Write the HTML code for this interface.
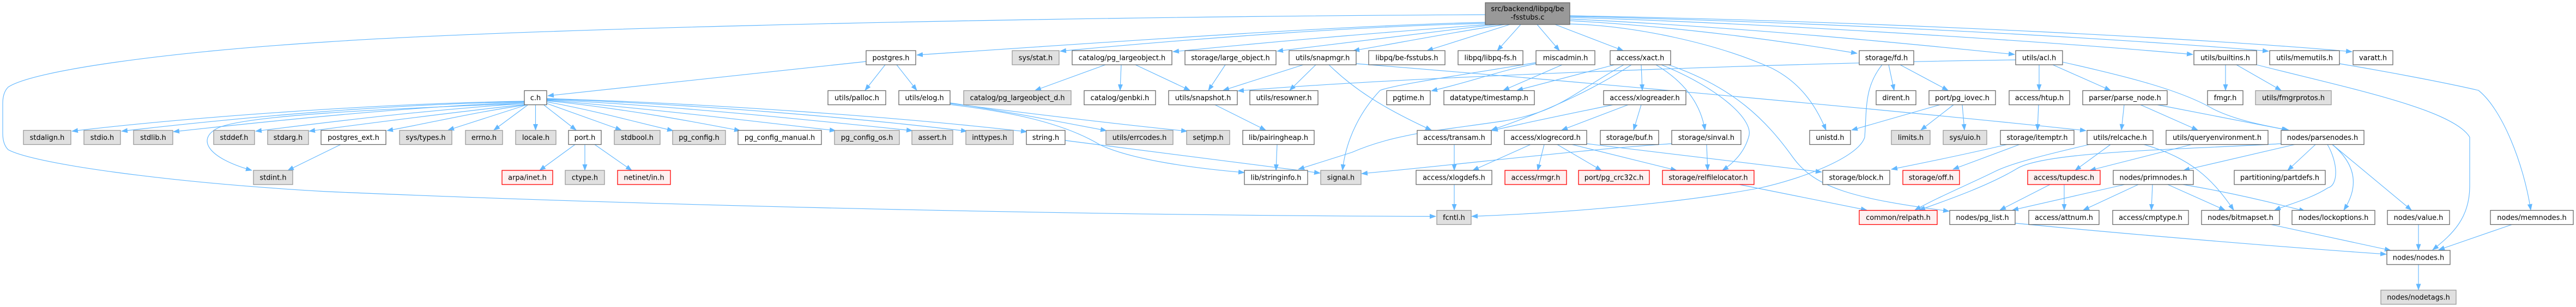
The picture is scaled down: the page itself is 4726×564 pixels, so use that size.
<!DOCTYPE html>
<html><head><meta charset="utf-8">
<style>
html,body{margin:0;padding:0;background:#fff;}
svg{display:block;}
.e{fill:none;stroke:#63b8ff;stroke-width:1.15;marker-end:url(#ah);}
.w{fill:#fff;stroke:#666;stroke-width:1.3;}
.g{fill:#e0e0e0;stroke:#999;stroke-width:1.3;}
.r{fill:#fff0f0;stroke:#f00;stroke-width:1.3;}
.rt{fill:#999;stroke:#666;stroke-width:1.3;}
text{font-family:"DejaVu Sans","Liberation Sans",sans-serif;font-size:12.9px;fill:#000;text-anchor:middle;}
</style></head>
<body>
<svg width="4726" height="564" viewBox="0 0 4726 564" xmlns="http://www.w3.org/2000/svg">
<defs>
<marker id="ah" markerUnits="userSpaceOnUse" markerWidth="12" markerHeight="9" viewBox="0 0 12 9" refX="11" refY="4.5" orient="auto">
<path d="M0,0 L12,4.5 L0,9 z" fill="#63b8ff"/>
</marker>
</defs>
<rect width="4726" height="564" fill="#fff"/>
<g>
<!-- root edges -->
<path class="e" d="M2725,27 C2000,30 1000,50 600,77 C300,96 60,130 15,160 Q5,170 5,190 L5,245 Q5,265 15,275 C60,300 300,335 600,352 C1200,378 2000,396 2634,397.5"/>
<path class="e" d="M2725,41 C2450,47 2000,80 1682,101"/>
<path class="e" d="M2725,43 C2500,48 2200,70 1945,94"/>
<path class="e" d="M2730,45 C2600,55 2400,70 2152,95"/>
<path class="e" d="M2745,45 C2600,62 2450,80 2343,94"/>
<path class="e" d="M2760,45 C2650,62 2560,80 2483,93"/>
<path class="e" d="M2770,45 L2618,93"/>
<path class="e" d="M2790,45 L2747,93"/>
<path class="e" d="M2820,45 L2861,93"/>
<path class="e" d="M2853,45 L2978,93"/>
<path class="e" d="M2880,38 C3100,50 3300,80 3407,98"/>
<path class="e" d="M2880,44 C3000,47 3150,80 3250,125 C3300,150 3330,190 3350,239"/>
<path class="e" d="M2880,35 C3200,50 3500,80 3696,100"/>
<path class="e" d="M2880,32 C3300,45 3800,80 4023,100"/>
<path class="e" d="M2880,30 C3500,45 4000,80 4162,94"/>
<path class="e" d="M2880,29 C3500,40 4100,75 4315,95"/>
<!-- postgres.h -->
<path class="e" d="M1589,113 L1005,176"/>
<path class="e" d="M1624,119 L1587,166"/>
<path class="e" d="M1645,119 L1682,166"/>
<!-- c.h -->
<path class="e" d="M962,186 C700,190 350,215 132,241"/>
<path class="e" d="M962,187 C700,192 450,215 223,241"/>
<path class="e" d="M962,188 C750,196 500,222 318,242"/>
<path class="e" d="M962,190 C700,200 450,212 400,235 C360,255 380,290 462,313"/>
<path class="e" d="M962,190 C750,205 600,225 469,241"/>
<path class="e" d="M962,192 C800,210 650,230 567,241"/>
<path class="e" d="M962,193 C850,210 780,228 710,240"/>
<path class="e" d="M965,193 L822,239"/>
<path class="e" d="M968,193 L906,239"/>
<path class="e" d="M982.5,193 L982.5,239"/>
<path class="e" d="M998,193 L1057,239"/>
<path class="e" d="M1003,190 L1140,239"/>
<path class="e" d="M1003,187 C1100,205 1180,228 1235,240"/>
<path class="e" d="M1003,185 C1150,200 1280,225 1358,240"/>
<path class="e" d="M1003,184 C1200,200 1400,225 1533,240"/>
<path class="e" d="M1003,183 C1250,195 1500,222 1674,240"/>
<path class="e" d="M1003,182 C1300,192 1600,220 1774,241"/>
<path class="e" d="M1003,181 C1300,190 1650,215 1884,242"/>
<!-- port.h, postgres_ext.h -->
<path class="e" d="M1055,265.5 L990,313"/>
<path class="e" d="M1073,265.5 L1073,313"/>
<path class="e" d="M1091,265.5 L1159,313"/>
<path class="e" d="M625,265.5 L528,313"/>
<!-- elog -->
<path class="e" d="M1743,189 C1850,205 1950,225 2030,240"/>
<path class="e" d="M1743,190 C1900,210 2050,228 2178,241"/>
<path class="e" d="M1743,192 C1850,205 1950,225 2018,266 C2080,295 2200,310 2283,317"/>
<path class="e" d="M1954,258 L2422,318"/>
<!-- catalog / storage / snapmgr -->
<path class="e" d="M2028,119 L1899,166"/>
<path class="e" d="M2057,119 L2055,166"/>
<path class="e" d="M2083,119 L2183,166"/>
<path class="e" d="M2248,119 L2217,166"/>
<path class="e" d="M2391,119 L2244,166"/>
<path class="e" d="M2414,119 L2366,166"/>
<path class="e" d="M2438,119 C2480,160 2530,195 2626,239"/>
<path class="e" d="M2488,117 C2900,150 3500,205 3827,240"/>
<path class="e" d="M3698,110 C3300,115 2600,140 2271,167"/>
<path class="e" d="M2229,192.5 L2322,239"/>
<path class="e" d="M2343,265.5 L2341,313"/>
<!-- miscadmin -->
<path class="e" d="M2818,117 C2750,130 2700,150 2626,167"/>
<path class="e" d="M2818,115 C2700,135 2560,155 2532,166 C2500,200 2470,250 2463,313"/>
<path class="e" d="M2866,119 L2758,166"/>
<!-- xact -->
<path class="e" d="M2962,119 L2783,166"/>
<path class="e" d="M2993,119 C2930,160 2850,200 2736,239"/>
<path class="e" d="M2979,119 C2880,175 2860,205 2760,222 C2640,240 2560,245 2480,280 L2382,311"/>
<path class="e" d="M3011,119 L3013,166"/>
<path class="e" d="M3038,119 C3090,150 3120,190 3128,239"/>
<path class="e" d="M3048,119 C3150,160 3220,220 3208,252 C3200,280 3180,300 3160,313"/>
<path class="e" d="M3061,119 C3180,160 3240,220 3290,290 C3330,345 3400,365 3576,388"/>
<!-- xlogreader -->
<path class="e" d="M2959,192.5 C2900,205 2800,225 2737,240"/>
<path class="e" d="M2987,192.5 L2865,239"/>
<path class="e" d="M3011,192.5 L2997,239"/>
<!-- xlogrecord etc -->
<path class="e" d="M2808,265.5 L2702,313"/>
<path class="e" d="M2668,265.5 L2668,313"/>
<path class="e" d="M2833,265.5 L2821,313"/>
<path class="e" d="M2857,265.5 L2938,313"/>
<path class="e" d="M2884,265.5 L3076,313"/>
<path class="e" d="M2911,264 L3342,316"/>
<path class="e" d="M3067,264 C2900,275 2700,300 2498,319"/>
<path class="e" d="M3131,265.5 L3133,313"/>
<path class="e" d="M2668,339 L2668,386"/>
<path class="e" d="M3191,339 L3425,386"/>
<!-- fd.h -->
<path class="e" d="M3465,119 L3475,166"/>
<path class="e" d="M3486,119 L3574,166"/>
<path class="e" d="M3453,119 C3420,160 3425,200 3421,252 C3410,290 3300,330 3230,345 C3100,370 2900,390 2700,397.5"/>
<path class="e" d="M3559,192.5 L3397,239"/>
<path class="e" d="M3584,192.5 L3524,239"/>
<path class="e" d="M3600,192.5 L3604,239"/>
<!-- acl, builtins, memutils -->
<path class="e" d="M3741,119 L3741,166"/>
<path class="e" d="M3766,119 L3872,166"/>
<path class="e" d="M3784,114 C3900,140 4000,165 4060,200 C4100,220 4150,230 4199,239"/>
<path class="e" d="M4083,119 L4083,166"/>
<path class="e" d="M4103,119 L4185,166"/>
<path class="e" d="M4140,119 C4300,160 4500,200 4531,252 L4531,342 C4531,400 4500,430 4463,459"/>
<path class="e" d="M4292,117 C4400,135 4500,155 4547,166 C4590,200 4630,300 4643,386"/>
<!-- row2 -> row3 -->
<path class="e" d="M3740,192.5 L3738,239"/>
<path class="e" d="M3897,192.5 L3892,239"/>
<path class="e" d="M3927,192.5 L4032,239"/>
<path class="e" d="M3958,192.5 L4197,239"/>
<!-- row3 -> row4/5 -->
<path class="e" d="M3682,265.5 C3600,285 3500,305 3470,311"/>
<path class="e" d="M3705,265.5 L3583,311"/>
<path class="e" d="M3872,265.5 L3807,313"/>
<path class="e" d="M4021,265.5 L3834,313"/>
<path class="e" d="M3933,265.5 C4020,290 4060,330 4098,386"/>
<path class="e" d="M3833,265.5 C3750,285 3690,300 3660,315 C3620,335 3560,360 3513,386"/>
<path class="e" d="M4185,264 C4000,275 3750,278 3700,310 C3650,340 3580,365 3521,386"/>
<path class="e" d="M4210,265.5 L4006,313"/>
<path class="e" d="M4248,265.5 L4197,313"/>
<path class="e" d="M4270,265.5 C4290,300 4290,340 4271,345 C4240,365 4200,375 4173,386"/>
<path class="e" d="M4279,265.5 C4320,300 4330,340 4300,386"/>
<path class="e" d="M4279,265.5 L4424,386"/>
<!-- row4 -> row5 -->
<path class="e" d="M3761,339 L3669,386"/>
<path class="e" d="M3787,339 L3787,386"/>
<path class="e" d="M3898,339 L3692,386"/>
<path class="e" d="M3923,339 L3822,386"/>
<path class="e" d="M3949,339 L3947,386"/>
<path class="e" d="M3977,339 L4082,386"/>
<path class="e" d="M4005,339 C4100,355 4180,375 4229,388"/>
<!-- bottom -->
<path class="e" d="M3697,410 C3900,430 4200,455 4378,467"/>
<path class="e" d="M4164,412 L4386,460"/>
<path class="e" d="M4437,412 L4437,459.5"/>
<path class="e" d="M4610,412 L4474,459"/>
<path class="e" d="M4437,486 L4437,532.5"/>
</g>

<!-- root -->
<rect class="rt" x="2725" y="5" width="155" height="40"/>
<text x="2802.5" y="20.5">src/backend/libpq/be</text>
<text x="2802.5" y="36">-fsstubs.c</text>

<!-- Row 1 -->
<g>
<rect class="w" x="1589" y="93" width="91" height="26"/><text x="1634.5" y="110.5">postgres.h</text>
<rect class="g" x="1857" y="93" width="86" height="26"/><text x="1900" y="110.5">sys/stat.h</text>
<rect class="w" x="1967" y="93" width="183" height="26"/><text x="2058.5" y="110.5">catalog/pg_largeobject.h</text>
<rect class="w" x="2174" y="93" width="167" height="26"/><text x="2257.5" y="110.5">storage/large_object.h</text>
<rect class="w" x="2365" y="93" width="123" height="26"/><text x="2426.5" y="110.5">utils/snapmgr.h</text>
<rect class="w" x="2511" y="93" width="140" height="26"/><text x="2581" y="110.5">libpq/be-fsstubs.h</text>
<rect class="w" x="2675" y="93" width="119" height="26"/><text x="2734.5" y="110.5">libpq/libpq-fs.h</text>
<rect class="w" x="2818" y="93" width="108" height="26"/><text x="2872" y="110.5">miscadmin.h</text>
<rect class="w" x="2954" y="93" width="111" height="26"/><text x="3009.5" y="110.5">access/xact.h</text>
<rect class="w" x="3411" y="93" width="100" height="26"/><text x="3461" y="110.5">storage/fd.h</text>
<rect class="w" x="3698" y="93" width="86" height="26"/><text x="3741" y="110.5">utils/acl.h</text>
<rect class="w" x="4025" y="93" width="115" height="26"/><text x="4082.5" y="110.5">utils/builtins.h</text>
<rect class="w" x="4164" y="93" width="128" height="26"/><text x="4228" y="110.5">utils/memutils.h</text>
<rect class="w" x="4317" y="93" width="73" height="26"/><text x="4353.5" y="110.5">varatt.h</text>
</g>

<!-- Row 2 -->
<g>
<rect class="w" x="962" y="166.5" width="41" height="26"/><text x="982.5" y="184">c.h</text>
<rect class="w" x="1519" y="166.5" width="106" height="26"/><text x="1572" y="184">utils/palloc.h</text>
<rect class="w" x="1649" y="166.5" width="94" height="26"/><text x="1696" y="184">utils/elog.h</text>
<rect class="g" x="1768" y="166.5" width="197" height="26"/><text x="1866.5" y="184">catalog/pg_largeobject_d.h</text>
<rect class="w" x="1989" y="166.5" width="131" height="26"/><text x="2054.5" y="184">catalog/genbki.h</text>
<rect class="w" x="2144" y="166.5" width="126" height="26"/><text x="2207" y="184">utils/snapshot.h</text>
<rect class="w" x="2293" y="166.5" width="125" height="26"/><text x="2355.5" y="184">utils/resowner.h</text>
<rect class="w" x="2544" y="166.5" width="80" height="26"/><text x="2584" y="184">pgtime.h</text>
<rect class="w" x="2649" y="166.5" width="166" height="26"/><text x="2732" y="184">datatype/timestamp.h</text>
<rect class="w" x="2942" y="166.5" width="151" height="26"/><text x="3017.5" y="184">access/xlogreader.h</text>
<rect class="w" x="3442" y="166.5" width="73" height="26"/><text x="3478.5" y="184">dirent.h</text>
<rect class="w" x="3539" y="166.5" width="122" height="26"/><text x="3600" y="184">port/pg_iovec.h</text>
<rect class="w" x="3686" y="166.5" width="111" height="26"/><text x="3741.5" y="184">access/htup.h</text>
<rect class="w" x="3821" y="166.5" width="155" height="26"/><text x="3898.5" y="184">parser/parse_node.h</text>
<rect class="w" x="4050" y="166.5" width="65" height="26"/><text x="4082.5" y="184">fmgr.h</text>
<rect class="g" x="4138" y="166.5" width="139" height="26"/><text x="4207.5" y="184">utils/fmgrprotos.h</text>
</g>

<!-- Row 3 -->
<g>
<rect class="g" x="43" y="239.5" width="87" height="26"/><text x="86.5" y="257">stdalign.h</text>
<rect class="g" x="154" y="239.5" width="67" height="26"/><text x="187.5" y="257">stdio.h</text>
<rect class="g" x="245" y="239.5" width="72" height="26"/><text x="281" y="257">stdlib.h</text>
<rect class="g" x="392" y="239.5" width="75" height="26"/><text x="429.5" y="257">stddef.h</text>
<rect class="g" x="491" y="239.5" width="75" height="26"/><text x="528.5" y="257">stdarg.h</text>
<rect class="w" x="589" y="239.5" width="119" height="26"/><text x="648.5" y="257">postgres_ext.h</text>
<rect class="g" x="733" y="239.5" width="96" height="26"/><text x="781" y="257">sys/types.h</text>
<rect class="g" x="854" y="239.5" width="68" height="26"/><text x="888" y="257">errno.h</text>
<rect class="g" x="946" y="239.5" width="74" height="26"/><text x="983" y="257">locale.h</text>
<rect class="w" x="1043" y="239.5" width="60" height="26"/><text x="1073" y="257">port.h</text>
<rect class="g" x="1127" y="239.5" width="84" height="26"/><text x="1169" y="257">stdbool.h</text>
<rect class="g" x="1234" y="239.5" width="97" height="26"/><text x="1282.5" y="257">pg_config.h</text>
<rect class="w" x="1354" y="239.5" width="153" height="26"/><text x="1430.5" y="257">pg_config_manual.h</text>
<rect class="g" x="1531" y="239.5" width="119" height="26"/><text x="1590.5" y="257">pg_config_os.h</text>
<rect class="g" x="1673" y="239.5" width="75" height="26"/><text x="1710.5" y="257">assert.h</text>
<rect class="g" x="1772" y="239.5" width="87" height="26"/><text x="1815.5" y="257">inttypes.h</text>
<rect class="w" x="1883" y="239.5" width="71" height="26"/><text x="1918.5" y="257">string.h</text>
<rect class="g" x="2029" y="239.5" width="123" height="26"/><text x="2090.5" y="257">utils/errcodes.h</text>
<rect class="g" x="2177" y="239.5" width="79" height="26"/><text x="2216.5" y="257">setjmp.h</text>
<rect class="w" x="2280" y="239.5" width="131" height="26"/><text x="2345.5" y="257">lib/pairingheap.h</text>
<rect class="w" x="2600" y="239.5" width="136" height="26"/><text x="2668" y="257">access/transam.h</text>
<rect class="w" x="2760" y="239.5" width="151" height="26"/><text x="2835.5" y="257">access/xlogrecord.h</text>
<rect class="w" x="2936" y="239.5" width="107" height="26"/><text x="2989.5" y="257">storage/buf.h</text>
<rect class="w" x="3067" y="239.5" width="127" height="26"/><text x="3130.5" y="257">storage/sinval.h</text>
<rect class="w" x="3320" y="239.5" width="75" height="26"/><text x="3357.5" y="257">unistd.h</text>
<rect class="g" x="3470" y="239.5" width="71" height="26"/><text x="3505.5" y="257">limits.h</text>
<rect class="g" x="3565" y="239.5" width="80" height="26"/><text x="3605" y="257">sys/uio.h</text>
<rect class="w" x="3670" y="239.5" width="135" height="26"/><text x="3737.5" y="257">storage/itemptr.h</text>
<rect class="w" x="3829" y="239.5" width="121" height="26"/><text x="3889.5" y="257">utils/relcache.h</text>
<rect class="w" x="3974" y="239.5" width="187" height="26"/><text x="4067.5" y="257">utils/queryenvironment.h</text>
<rect class="w" x="4185" y="239.5" width="152" height="26"/><text x="4261" y="257">nodes/parsenodes.h</text>
</g>

<!-- Row 4 -->
<g>
<rect class="g" x="465" y="313" width="72" height="26"/><text x="501" y="330.5">stdint.h</text>
<rect class="r" x="921" y="313" width="93" height="26"/><text x="967.5" y="330.5">arpa/inet.h</text>
<rect class="g" x="1037" y="313" width="72" height="26"/><text x="1073" y="330.5">ctype.h</text>
<rect class="r" x="1133" y="313" width="97" height="26"/><text x="1181.5" y="330.5">netinet/in.h</text>
<rect class="w" x="2283" y="313" width="116" height="26"/><text x="2341" y="330.5">lib/stringinfo.h</text>
<rect class="g" x="2423" y="313" width="74" height="26"/><text x="2460" y="330.5">signal.h</text>
<rect class="w" x="2598" y="313" width="139" height="26"/><text x="2667.5" y="330.5">access/xlogdefs.h</text>
<rect class="r" x="2761" y="313" width="113" height="26"/><text x="2817.5" y="330.5">access/rmgr.h</text>
<rect class="r" x="2896" y="313" width="130" height="26"/><text x="2961" y="330.5">port/pg_crc32c.h</text>
<rect class="r" x="3050" y="313" width="168" height="26"/><text x="3134" y="330.5">storage/relfilelocator.h</text>
<rect class="w" x="3344" y="313" width="123" height="26"/><text x="3405.5" y="330.5">storage/block.h</text>
<rect class="r" x="3491" y="313" width="104" height="26"/><text x="3543" y="330.5">storage/off.h</text>
<rect class="r" x="3720" y="313" width="133" height="26"/><text x="3786.5" y="330.5">access/tupdesc.h</text>
<rect class="w" x="3877" y="313" width="147" height="26"/><text x="3950.5" y="330.5">nodes/primnodes.h</text>
<rect class="w" x="4099" y="313" width="167" height="26"/><text x="4182.5" y="330.5">partitioning/partdefs.h</text>
</g>

<!-- Row 5 -->
<g>
<rect class="g" x="2636" y="386.5" width="63" height="26"/><text x="2667.5" y="404">fcntl.h</text>
<rect class="r" x="3411" y="386.5" width="143" height="26"/><text x="3482.5" y="404">common/relpath.h</text>
<rect class="w" x="3577" y="386.5" width="120" height="26"/><text x="3637" y="404">nodes/pg_list.h</text>
<rect class="w" x="3722" y="386.5" width="129" height="26"/><text x="3786.5" y="404">access/attnum.h</text>
<rect class="w" x="3876" y="386.5" width="139" height="26"/><text x="3945.5" y="404">access/cmptype.h</text>
<rect class="w" x="4039" y="386.5" width="143" height="26"/><text x="4110.5" y="404">nodes/bitmapset.h</text>
<rect class="w" x="4205" y="386.5" width="152" height="26"/><text x="4281" y="404">nodes/lockoptions.h</text>
<rect class="w" x="4380" y="386.5" width="114" height="26"/><text x="4437" y="404">nodes/value.h</text>
<rect class="w" x="4569" y="386.5" width="152" height="26"/><text x="4645" y="404">nodes/memnodes.h</text>
</g>

<!-- Row 6/7 -->
<rect class="w" x="4379" y="460" width="116" height="26"/><text x="4437" y="477.5">nodes/nodes.h</text>
<rect class="g" x="4368" y="533" width="138" height="26"/><text x="4437" y="550.5">nodes/nodetags.h</text>
</svg>
</body></html>
